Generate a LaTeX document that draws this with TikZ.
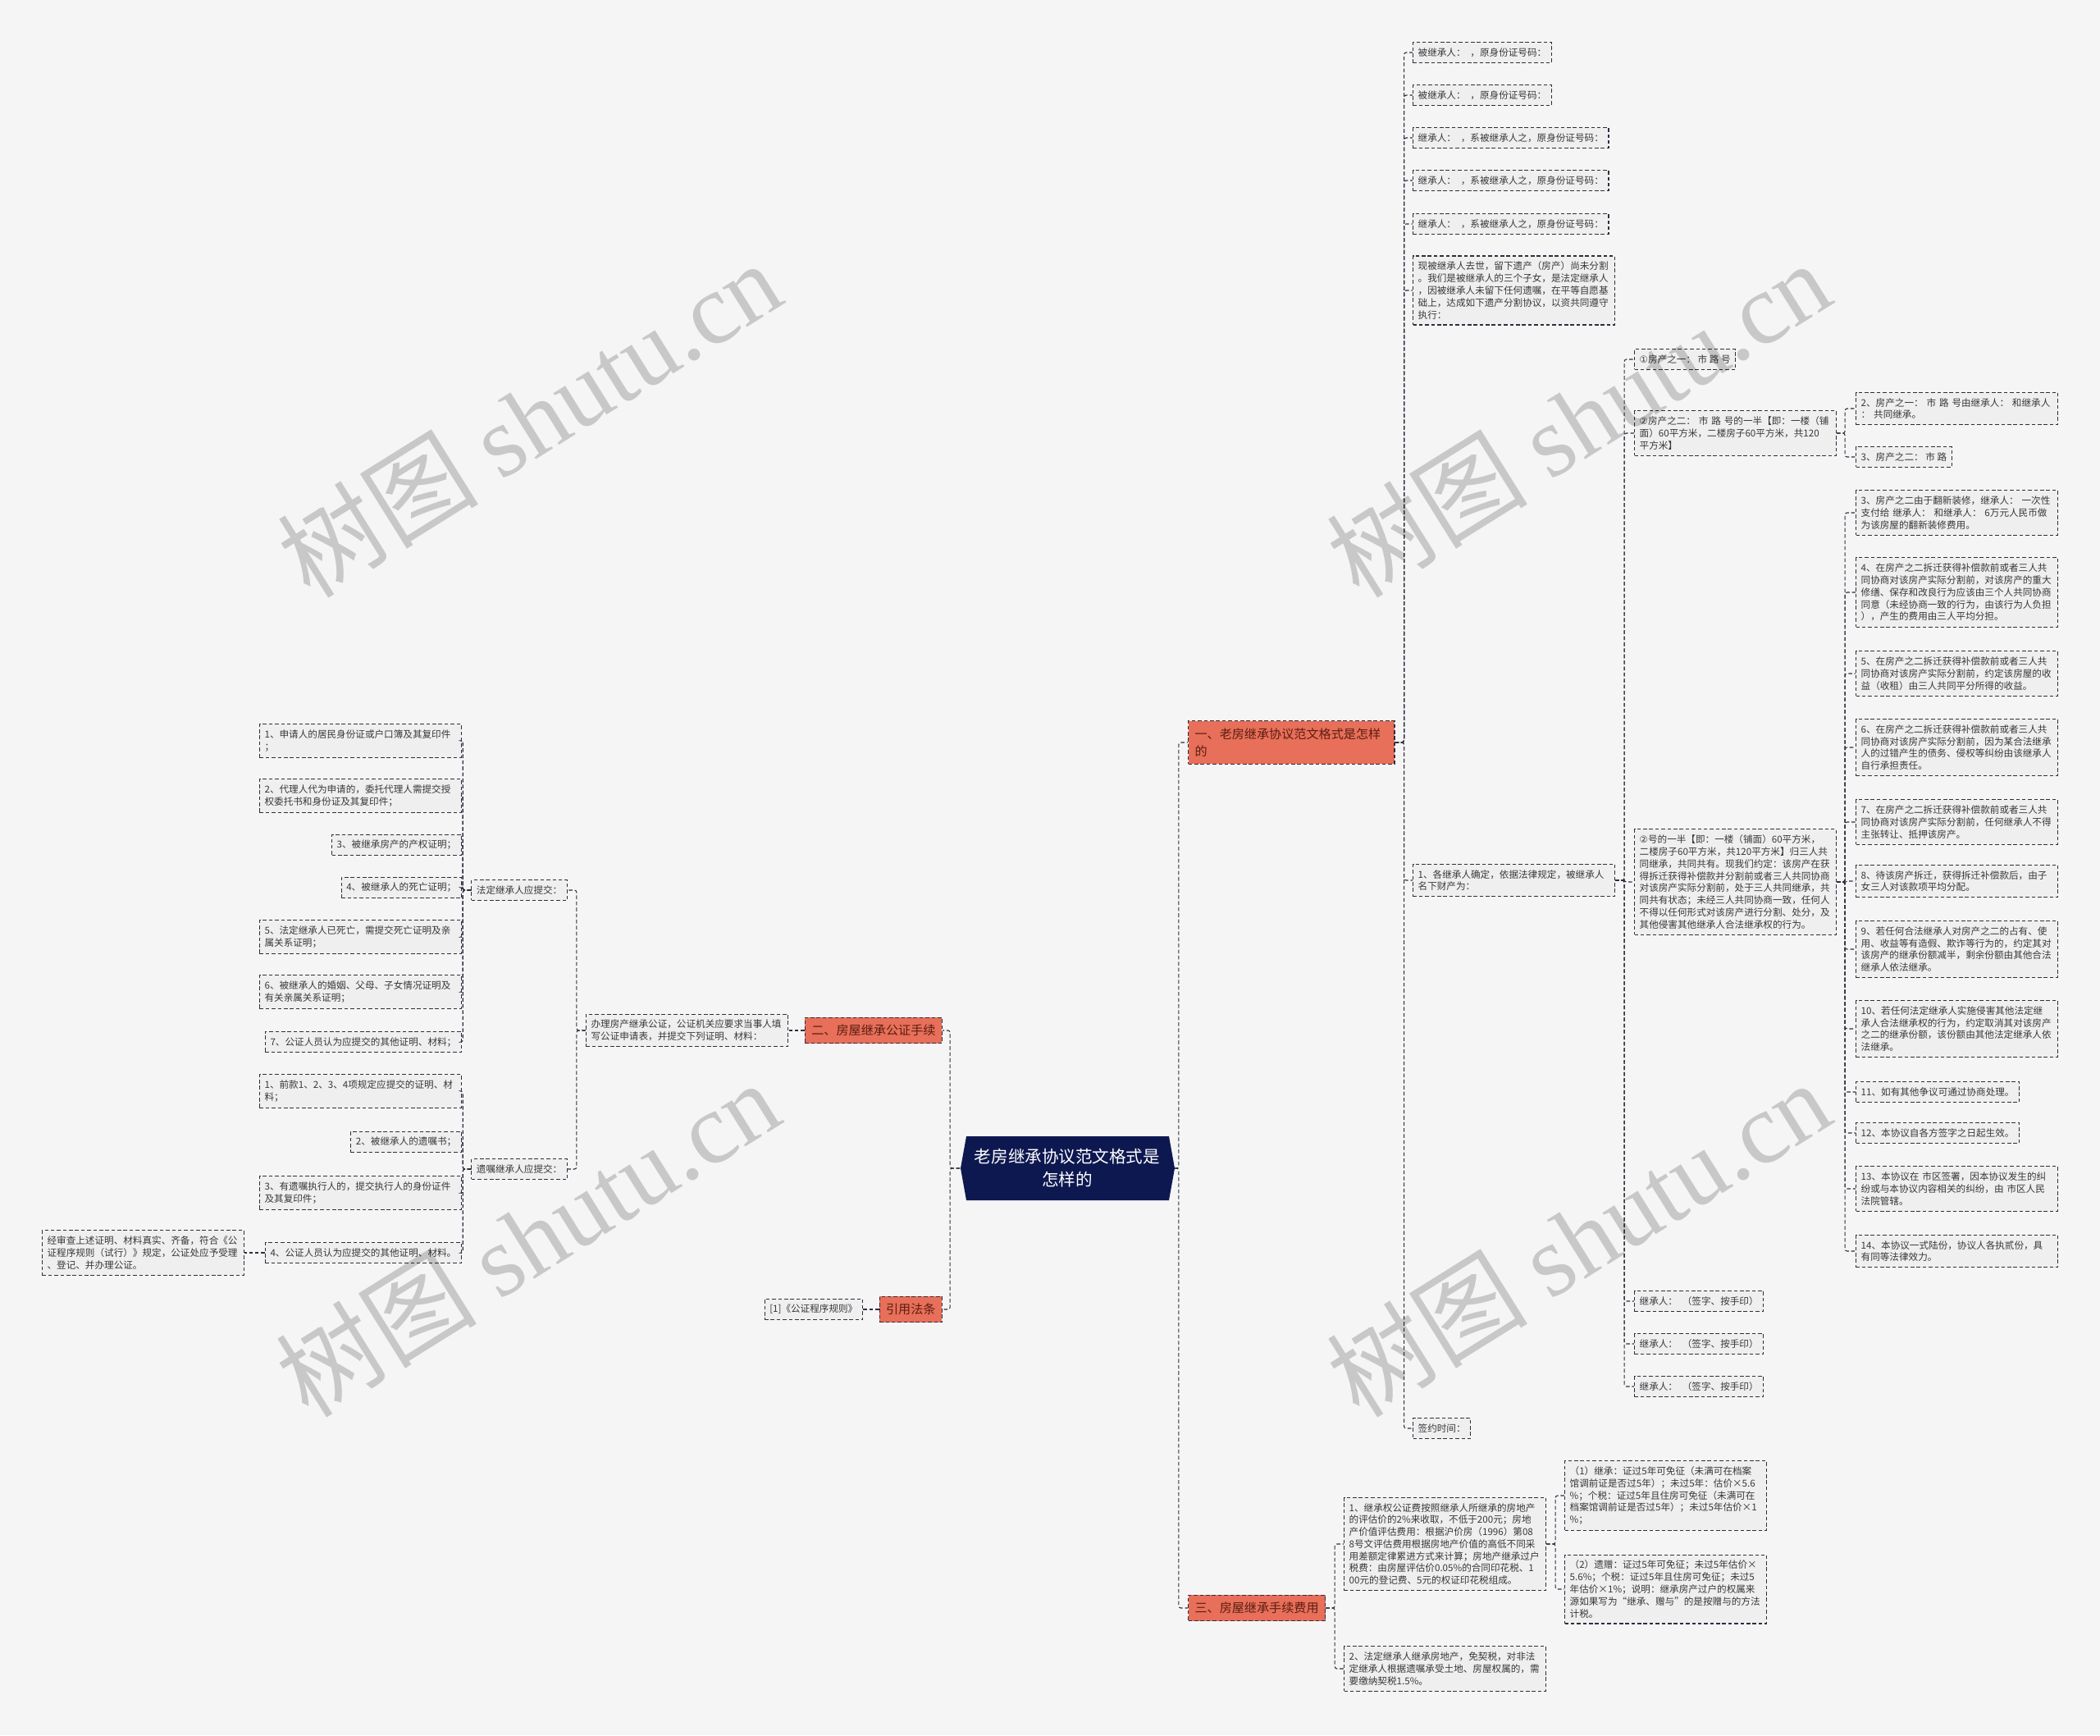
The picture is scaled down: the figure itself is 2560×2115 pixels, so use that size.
\documentclass[tikz,border=0pt]{standalone}
\usepackage{fontspec}
\setmainfont{Noto Sans CJK SC}
\newfontfamily\markfont{Liberation Serif}
\newfontfamily\circfont{DejaVu Sans}
\usetikzlibrary{positioning}

\definecolor{bgc}{HTML}{F5F5F5}
\definecolor{linec}{HTML}{2E2E3E}
\definecolor{boxc}{HTML}{EFEFEF}
\definecolor{txtc}{HTML}{383838}
\definecolor{topicc}{HTML}{E86F59}
\definecolor{topictxt}{HTML}{5A1E12}
\definecolor{rootc}{HTML}{0E1850}

\begin{document}
\begin{tikzpicture}[
        x=0.2mm, y=-0.2mm,
        box/.style = {
            draw=linec,
            line width=0.6pt,
            dash pattern=on 2.6pt off 1.6pt,
            fill=boxc,
            text=txtc,
            font=\fontsize{6.6pt}{8.4pt}\selectfont,
            align=left,
            inner xsep=3.5pt,
            inner ysep=4pt},
        wide/.style = {box, text width=133pt},
        topic/.style = {
            draw=linec,
            line width=0.7pt,
            dash pattern=on 2.6pt off 1.6pt,
            fill=topicc,
            text=topictxt,
            font=\fontsize{8.6pt}{12pt}\selectfont,
            align=left,
            inner xsep=4.5pt,
            inner ysep=5pt},
        rootnode/.style = {
            text=white,
            font=\fontsize{11.7pt}{16pt}\selectfont,
            align=center,
            inner sep=0pt,
            minimum width=52.2mm,
            minimum height=15.6mm},
        link/.style = {
            draw=linec,
            line width=0.6pt,
            dash pattern=on 2.6pt off 1.6pt,
            rounded corners=1.5pt},
        wmark/.style = {
            text=black,
            opacity=0.18,
            font=\fontsize{70pt}{70pt}\selectfont,
            rotate=32}
    ]
    \fill[bgc] (0,0) rectangle (2560,2115);
    \useasboundingbox (0,0) rectangle (2560,2115);

    % root
    \fill[rootc] (1171,1424) -- (1178,1385) -- (1425,1385) -- (1432,1424)
        -- (1425,1463) -- (1178,1463) -- cycle;
    \node[rootnode] (root) at (1301,1424) {老房继承协议范文格式是\\怎样的};

    % topics
    \node[topic, text width=134pt, anchor=west] (b1) at (1448,905) {一、老房继承协议范文格式是怎样\\的};
    \node[topic, anchor=west] (b4) at (1448,1960) {三、房屋继承手续费用};
    \node[topic, anchor=east] (b2) at (1149,1256) {二、房屋继承公证手续};
    \node[topic, anchor=east] (b3) at (1149,1596) {引用法条};

    % agreement text
    \node[box, anchor=west] (t1) at (1722,64) {被继承人：\enspace，原身份证号码：};
    \node[box, anchor=west] (t2) at (1722,116) {被继承人：\enspace，原身份证号码：};
    \node[box, anchor=west] (t3) at (1722,168) {继承人：\enspace，系被继承人之，原身份证号码：};
    \node[box, anchor=west] (t4) at (1722,220) {继承人：\enspace，系被继承人之，原身份证号码：};
    \node[box, anchor=west] (t5) at (1722,273) {继承人：\enspace，系被继承人之，原身份证号码：};
    \node[wide, anchor=west] (t6) at (1722,354) {现被继承人去世，留下遗产（房产）尚未分割\\。我们是被继承人的三个子女，是法定继承人\\，因被继承人未留下任何遗嘱，在平等自愿基\\础上，达成如下遗产分割协议，以资共同遵守\\执行：};
    \node[wide, anchor=west] (t7) at (1722,1073) {1、各继承人确定，依据法律规定，被继承人\\名下财产为：};
    \node[box, anchor=west] (t8) at (1722,1741) {签约时间：};

    \node[box, anchor=west] (p1) at (1992,438) {{\circfont ①}房产之一：~市~路~号};
    \node[wide, anchor=west] (p2) at (1992,528) {{\circfont ②}房产之二：~市~路~号的一半【即：一楼（铺\\面）60平方米，二楼房子60平方米，共120\\平方米】};
    \node[wide, anchor=west] (p3) at (1992,1075) {{\circfont ②}号的一半【即：一楼（铺面）60平方米，\\二楼房子60平方米，共120平方米】归三人共\\同继承，共同共有。现我们约定：该房产在获\\得拆迁获得补偿款并分割前或者三人共同协商\\对该房产实际分割前，处于三人共同继承，共\\同共有状态；未经三人共同协商一致，任何人\\不得以任何形式对该房产进行分割、处分，及\\其他侵害其他继承人合法继承权的行为。};
    \node[box, anchor=west] (s1) at (1992,1586) {继承人：\enspace（签字、按手印）};
    \node[box, anchor=west] (s2) at (1992,1638) {继承人：\enspace（签字、按手印）};
    \node[box, anchor=west] (s3) at (1992,1690) {继承人：\enspace（签字、按手印）};

    \node[wide, anchor=west] (q1) at (2262,498) {2、房产之一：~市~路~号由继承人：~和继承人\\：~共同继承。};
    \node[box, anchor=west] (q2) at (2262,557) {3、房产之二：~市~路};

    \node[wide, anchor=west] (r3) at (2262,625) {3、房产之二由于翻新装修，继承人：~一次性\\支付给~继承人：~和继承人：~6万元人民币做\\为该房屋的翻新装修费用。};
    \node[wide, anchor=west] (r4) at (2262,722) {4、在房产之二拆迁获得补偿款前或者三人共\\同协商对该房产实际分割前，对该房产的重大\\修缮、保存和改良行为应该由三个人共同协商\\同意（未经协商一致的行为，由该行为人负担\\），产生的费用由三人平均分担。};
    \node[wide, anchor=west] (r5) at (2262,821) {5、在房产之二拆迁获得补偿款前或者三人共\\同协商对该房产实际分割前，约定该房屋的收\\益（收租）由三人共同平分所得的收益。};
    \node[wide, anchor=west] (r6) at (2262,911) {6、在房产之二拆迁获得补偿款前或者三人共\\同协商对该房产实际分割前，因为某合法继承\\人的过错产生的债务、侵权等纠纷由该继承人\\自行承担责任。};
    \node[wide, anchor=west] (r7) at (2262,1002) {7、在房产之二拆迁获得补偿款前或者三人共\\同协商对该房产实际分割前，任何继承人不得\\主张转让、抵押该房产。};
    \node[wide, anchor=west] (r8) at (2262,1074) {8、待该房产拆迁，获得拆迁补偿款后，由子\\女三人对该款项平均分配。};
    \node[wide, anchor=west] (r9) at (2262,1157) {9、若任何合法继承人对房产之二的占有、使\\用、收益等有造假、欺诈等行为的，约定其对\\该房产的继承份额减半，剩余份额由其他合法\\继承人依法继承。};
    \node[wide, anchor=west] (r10) at (2262,1254) {10、若任何法定继承人实施侵害其他法定继\\承人合法继承权的行为，约定取消其对该房产\\之二的继承份额，该份额由其他法定继承人依\\法继承。};
    \node[box, anchor=west] (r11) at (2262,1331) {11、如有其他争议可通过协商处理。};
    \node[box, anchor=west] (r12) at (2262,1381) {12、本协议自各方签字之日起生效。};
    \node[wide, anchor=west] (r13) at (2262,1449) {13、本协议在~市区签署，因本协议发生的纠\\纷或与本协议内容相关的纠纷，由~市区人民\\法院管辖。};
    \node[wide, anchor=west] (r14) at (2262,1525) {14、本协议一式陆份，协议人各执贰份，具\\有同等法律效力。};

    % fees
    \node[wide, anchor=west] (f1) at (1638,1882) {1、继承权公证费按照继承人所继承的房地产\\的评估价的2\%来收取，不低于200元；房地\\产价值评估费用：根据沪价房（1996）第08\\8号文评估费用根据房地产价值的高低不同采\\用差额定律累进方式来计算；房地产继承过户\\税费：由房屋评估价0.05\%的合同印花税、1\\00元的登记费、5元的权证印花税组成。};
    \node[wide, anchor=west] (f2) at (1638,2034) {2、法定继承人继承房地产，免契税，对非法\\定继承人根据遗嘱承受土地、房屋权属的，需\\要缴纳契税1.5\%。};
    \node[wide, anchor=west] (g1) at (1907,1823) {（1）继承：证过5年可免征（未满可在档案\\馆调前证是否过5年）；未过5年：估价×5.6\\\%；个税：证过5年且住房可免征（未满可在\\档案馆调前证是否过5年）；未过5年估价×1\\\%；};
    \node[wide, anchor=west] (g2) at (1907,1937) {（2）遗赠：证过5年可免征；未过5年估价×\\5.6\%；个税：证过5年且住房可免征；未过5\\年估价×1\%；说明：继承房产过户的权属来\\源如果写为“继承、赠与”的是按赠与的方法\\计税。};

    % notarization
    \node[wide, anchor=east] (n0) at (961,1256) {办理房产继承公证，公证机关应要求当事人填\\写公证申请表，并提交下列证明、材料：};
    \node[box, anchor=east] (fd) at (692,1085) {法定继承人应提交：};
    \node[box, anchor=east] (yz) at (692,1425) {遗嘱继承人应提交：};

    \node[wide, anchor=east] (a1) at (563,903) {1、申请人的居民身份证或户口簿及其复印件\\；};
    \node[wide, anchor=east] (a2) at (563,970) {2、代理人代为申请的，委托代理人需提交授\\权委托书和身份证及其复印件；};
    \node[box, anchor=east] (a3) at (563,1030) {3、被继承房产的产权证明；};
    \node[box, anchor=east] (a4) at (563,1082) {4、被继承人的死亡证明；};
    \node[wide, anchor=east] (a5) at (563,1142) {5、法定继承人已死亡，需提交死亡证明及亲\\属关系证明；};
    \node[wide, anchor=east] (a6) at (563,1209) {6、被继承人的婚姻、父母、子女情况证明及\\有关亲属关系证明；};
    \node[box, anchor=east] (a7) at (563,1270) {7、公证人员认为应提交的其他证明、材料；};

    \node[wide, anchor=east] (w1) at (563,1330) {1、前款1、2、3、4项规定应提交的证明、材\\料；};
    \node[box, anchor=east] (w2) at (563,1392) {2、被继承人的遗嘱书；};
    \node[wide, anchor=east] (w3) at (563,1454) {3、有遗嘱执行人的，提交执行人的身份证件\\及其复印件；};
    \node[box, anchor=east] (w4) at (563,1527) {4、公证人员认为应提交的其他证明、材料。};
    \node[wide, anchor=east] (w4c) at (298,1527) {经审查上述证明、材料真实、齐备，符合《公\\证程序规则（试行）》规定，公证处应予受理\\、登记、并办理公证。};

    \node[box, anchor=east] (c1) at (1052,1596) {[1]《公证程序规则》};

    % connectors, right side
    \foreach \c in {b1,b4}
        \draw[link] (root.east) -- ++(5,0) |- (\c.west);
    \foreach \c in {t1,t2,t3,t4,t5,t6,t7,t8}
        \draw[link] (b1.east) -- ++(11,0) |- (\c.west);
    \foreach \c in {p1,p2,p3,s1,s2,s3}
        \draw[link] (t7.east) -- ++(11,0) |- (\c.west);
    \foreach \c in {q1,q2}
        \draw[link] (p2.east) -- ++(10,0) |- (\c.west);
    \foreach \c in {r3,r4,r5,r6,r7,r8,r9,r10,r11,r12,r13,r14}
        \draw[link] (p3.east) -- ++(10,0) |- (\c.west);
    \foreach \c in {f1,f2}
        \draw[link] (b4.east) -- ++(11,0) |- (\c.west);
    \foreach \c in {g1,g2}
        \draw[link] (f1.east) -- ++(11,0) |- (\c.west);

    % connectors, left side
    \foreach \c in {b2,b3}
        \draw[link] (root.west) -- ++(-12,0) |- (\c.east);
    \draw[link] (b2.west) -- (n0.east);
    \draw[link] (b3.west) -- (c1.east);
    \foreach \c in {fd,yz}
        \draw[link] (n0.west) -- ++(-11,0) |- (\c.east);
    \foreach \c in {a1,a2,a3,a4,a5,a6,a7}
        \draw[link] (fd.west) -- ++(-10,0) |- (\c.east);
    \foreach \c in {w1,w2,w3,w4}
        \draw[link] (yz.west) -- ++(-10,0) |- (\c.east);
    \draw[link] (w4.west) -- (w4c.east);

    % watermarks
    \foreach \p in {(645,510),(1924,510),(643,1509),(1924,1509)}
        \node[wmark] at \p {树图 {\markfont shutu.cn}};
\end{tikzpicture}
\end{document}
